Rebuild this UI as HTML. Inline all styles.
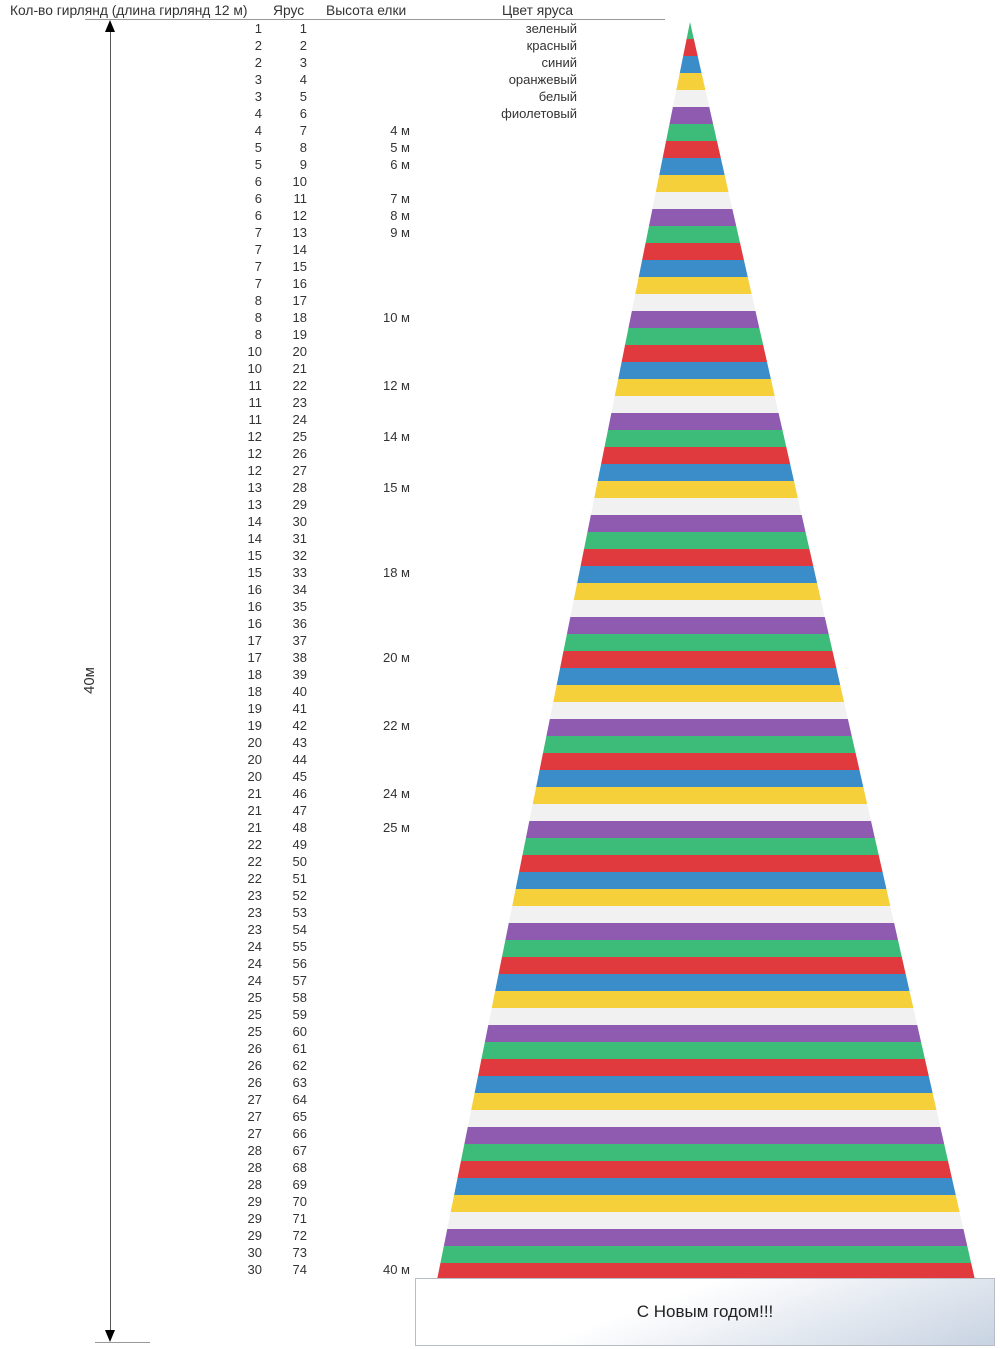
<!DOCTYPE html>
<html><head><meta charset="utf-8"><style>
body{margin:0;width:1000px;height:1349px;background:#fff;position:relative;overflow:hidden;font-family:"Liberation Sans",sans-serif;color:#333;}
.h{position:absolute;top:3px;font-size:13.8px;white-space:nowrap}
.col{position:absolute;top:19.5px;font-size:13px;line-height:17px;text-align:right;white-space:pre}
#tree{position:absolute;left:437px;top:22px;width:538px;height:1258px;
clip-path:polygon(253px 0,538px 100%,0 100%);
background:repeating-linear-gradient(to bottom,#3dbb78 0 17px,#e0393e 17px 34px,#3a8dc8 34px 51px,#f5d03b 51px 68px,#f1f1f1 68px 85px,#8e5bb0 85px 102px);}
#base{position:absolute;left:415px;top:1278px;width:578px;height:66px;border:1px solid #b8bcc4;
background:linear-gradient(160deg,#ffffff 40%,#c8d3e2 100%);text-align:center;line-height:66px;font-size:17px;color:#222}
</style></head><body>
<div class="h" style="left:10px">Кол-во гирлянд (длина гирлянд 12 м)</div>
<div class="h" style="left:273px">Ярус</div>
<div class="h" style="left:326px">Высота елки</div>
<div class="h" style="left:502px">Цвет яруса</div>
<div style="position:absolute;left:85px;top:19px;width:580px;height:1px;background:#999"></div>
<div style="position:absolute;left:110px;top:28px;width:1px;height:1304px;background:#555"></div>
<div style="position:absolute;left:105px;top:20px;width:0;height:0;border-left:5px solid transparent;border-right:5px solid transparent;border-bottom:12px solid #000"></div>
<div style="position:absolute;left:105px;top:1330px;width:0;height:0;border-left:5px solid transparent;border-right:5px solid transparent;border-top:12px solid #000"></div>
<div style="position:absolute;left:95px;top:1342px;width:55px;height:1px;background:#999"></div>
<div style="position:absolute;left:76px;top:672px;font-size:15px;transform:rotate(-90deg)">40м</div>
<div class="col" style="right:738px">1
2
2
3
3
4
4
5
5
6
6
6
7
7
7
7
8
8
8
10
10
11
11
11
12
12
12
13
13
14
14
15
15
16
16
16
17
17
18
18
19
19
20
20
20
21
21
21
22
22
22
23
23
23
24
24
24
25
25
25
26
26
26
27
27
27
28
28
28
29
29
29
30
30</div>
<div class="col" style="right:693px">1
2
3
4
5
6
7
8
9
10
11
12
13
14
15
16
17
18
19
20
21
22
23
24
25
26
27
28
29
30
31
32
33
34
35
36
37
38
39
40
41
42
43
44
45
46
47
48
49
50
51
52
53
54
55
56
57
58
59
60
61
62
63
64
65
66
67
68
69
70
71
72
73
74</div>
<div class="col" style="right:590px">





4 м
5 м
6 м

7 м
8 м
9 м




10 м



12 м


14 м


15 м




18 м




20 м



22 м



24 м

25 м

























40 м</div>
<div class="col" style="right:423px">зеленый
красный
синий
оранжевый
белый
фиолетовый</div>
<div id="tree"></div>
<div id="base">С Новым годом!!!</div>
</body></html>
